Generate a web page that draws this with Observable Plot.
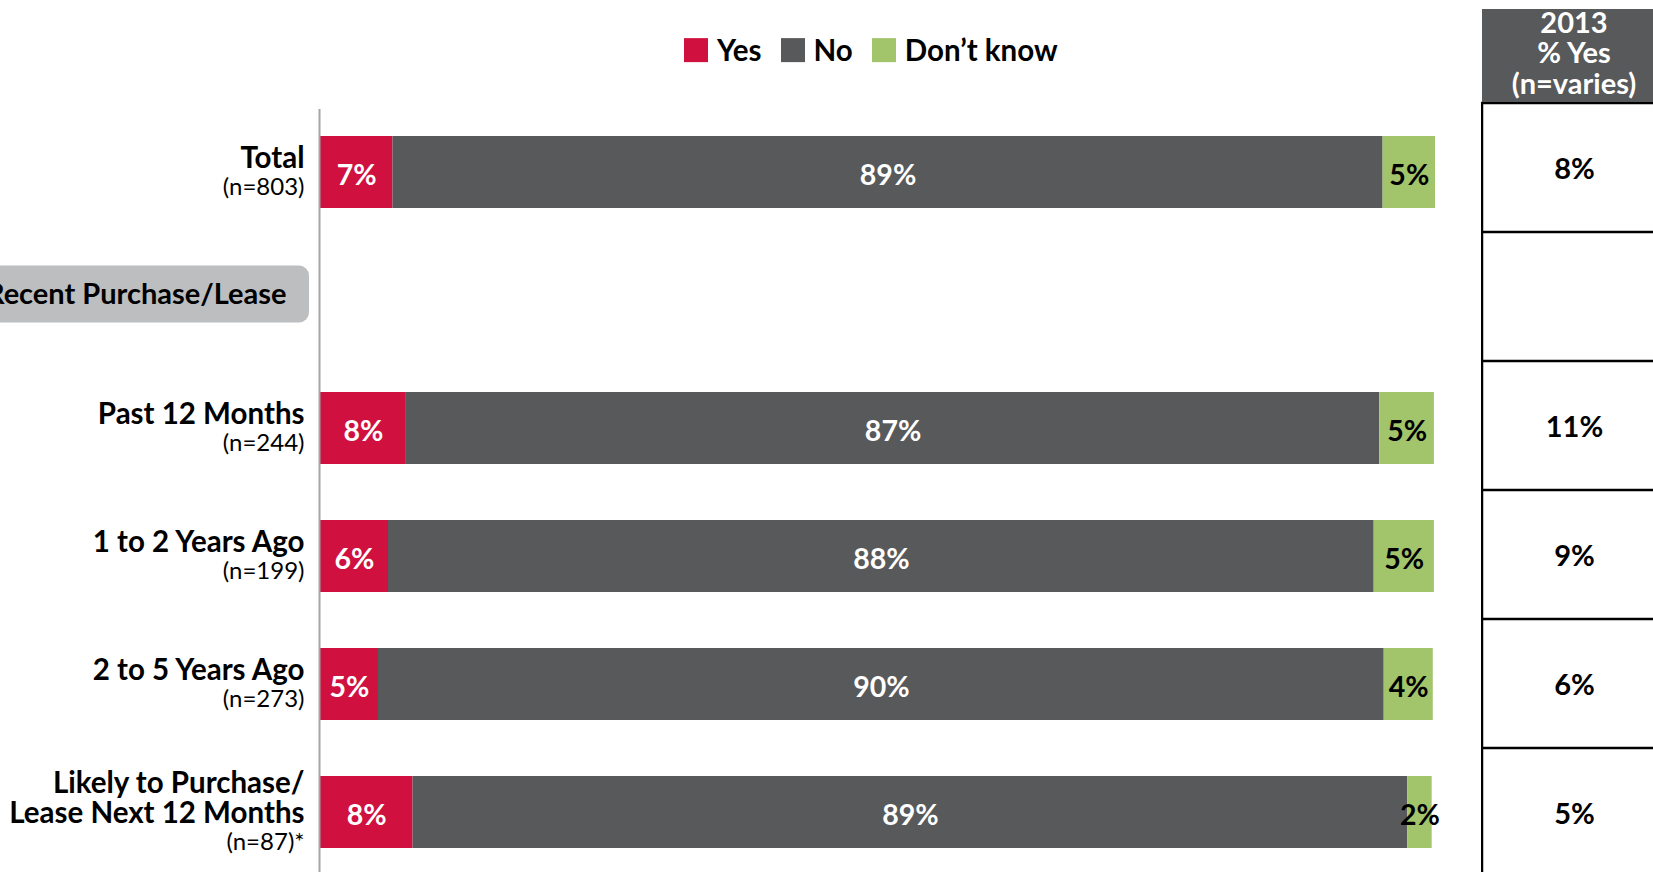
<!DOCTYPE html>
<html><head><meta charset="utf-8">
<script src="https://cdn.jsdelivr.net/npm/d3@7"></script>
<script src="https://cdn.jsdelivr.net/npm/@observablehq/plot@0.6"></script>
<style>
html, body {margin:0; padding:0; background:white; overflow:hidden;}
#root {position:relative; width:1653px; height:872px; overflow:hidden; font-family: Lato, sans-serif;}
#root svg {max-width:none !important;}
.abs {position:absolute;}
#main {left:0; top:0;}
#table {left:1481px; top:0;}
#legend {left:684px; top:57px; transform: translateY(-50%);}
.lg {font-family: Lato, sans-serif !important; font-size: 29.5px !important; font-weight: bold !important; color: #000 !important; margin: 0 !important; min-height: 0 !important; line-height: 34px !important;}
.lg-swatch {margin-right: 19px !important;}
.lg-swatch > svg {margin-right: 9px !important; width: 24px !important; height: 24px !important;}
#header {left:1482px; top:9px; width:184px; height:93px; box-sizing:border-box; padding-bottom:6px; background:#58595b; color:white; font: bold 29px/30.5px Lato, sans-serif; display:flex; align-items:center; justify-content:center; text-align:center; white-space:pre-line;}
</style></head>
<body>
<div id="root">
  <div id="main" class="abs"></div>
  <div id="table" class="abs"></div>
  <div id="header" class="abs"></div>
  <div id="legend" class="abs"></div>
</div>
<script>
// ---- data ----
const categories = ["Total", "Recent Purchase/Lease", "Past 12 Months", "1 to 2 Years Ago", "2 to 5 Years Ago", "Likely to Purchase/ Lease Next 12 Months"];
const labelLines = [["Total"], ["Recent Purchase/Lease"], ["Past 12 Months"], ["1 to 2 Years Ago"], ["2 to 5 Years Ago"], ["Likely to Purchase/", "Lease Next 12 Months"]];
const sampleSizes = ["(n=803)", null, "(n=244)", "(n=199)", "(n=273)", "(n=87)*"];
const responses = ["Yes", "No", "Don’t know"];
const colors = ["#d0103f", "#58595b", "#a2c46b"];
const yesValues = [6.5, null, 7.7, 6.1, 5.2, 8.3];
const noValues = [88.8, null, 87.3, 88.4, 90.2, 89.2];
const dontKnowValues = [4.7, null, 4.9, 5.4, 4.4, 2.2];
const yes2013 = [8, null, 11, 9, 6, 5];
const tableHeader = ["2013", "% Yes", "(n=varies)"];
const groupLabel = "Recent Purchase/Lease";

// ---- derived tables ----
const seriesValues = [yesValues, noValues, dontKnowValues];
const barData = categories.flatMap((cat, i) =>
  yesValues[i] == null ? [] : responses.map((resp, j) => ({cat, resp, value: seriesValues[j][i]})));
const labelRows = categories.map((cat, i) => ({cat, name: labelLines[i], n: sampleSizes[i]})).filter(d => d.n != null);
const groupRows = categories.filter(c => c === groupLabel).map(cat => ({cat}));
const tableRows = categories.map((cat, i) => ({cat, v: yes2013[i]}));
const fmt = v => Math.round(v) + "%";
const DK = responses[2];
const FONT = "Lato, sans-serif";
const LINE = 29.5; // label line spacing in px

function pillMark(index, scales, values, dimensions) {
  const y = scales.y;
  const bw = typeof y.bandwidth === "function" ? y.bandwidth() : (+y.bandwidth || 0);
  const g = document.createElementNS("http://www.w3.org/2000/svg", "g");
  for (const d of groupRows) {
    const cy = y(d.cat) + bw / 2 - 6;
    const r = document.createElementNS("http://www.w3.org/2000/svg", "rect");
    r.setAttribute("x", -20);
    r.setAttribute("y", cy - 28.5);
    r.setAttribute("width", dimensions.marginLeft - 11 + 20);
    r.setAttribute("height", 57);
    r.setAttribute("rx", 10);
    r.setAttribute("fill", "#bcbec0");
    g.appendChild(r);
  }
  return g;
}

const main = Plot.plot({
  width: 1480, height: 872,
  marginLeft: 320, marginRight: 45, marginTop: 113, marginBottom: 0,
  x: {domain: [0, 100], axis: null},
  y: {domain: categories, axis: null, paddingInner: 0.434, paddingOuter: 0.18},
  color: {domain: responses, range: colors},
  style: {fontFamily: FONT, background: "white"},
  marks: [
    pillMark,
    Plot.barX(barData, {y: "cat", x: "value", fill: "resp", z: "resp", order: responses}),
    Plot.ruleX([0], {stroke: "#a6a6a6", strokeWidth: 2, dx: -1, insetTop: -4}),
    Plot.text(barData, Plot.stackX({y: "cat", x: "value", z: "resp", order: responses, dy: 3,
      text: d => d.resp !== DK ? fmt(d.value) : null, fill: "white", fontSize: 28.5, fontWeight: "bold", fontFamily: FONT})),
    Plot.text(barData, Plot.stackX({y: "cat", x: "value", z: "resp", order: responses, dy: 3,
      text: d => d.resp === DK ? fmt(d.value) : null, fill: "black", fontSize: 28.5, fontWeight: "bold", fontFamily: FONT})),
    Plot.text(labelRows, {y: "cat", text: d => [...d.name, ""].join("\n"), frameAnchor: "left", textAnchor: "end", dx: -16, dy: 1,
      fontSize: 29.5, fontWeight: "bold", lineHeight: LINE / 29.5, fill: "black", fontFamily: FONT}),
    Plot.text(labelRows, {y: "cat", text: d => [...d.name.map(() => ""), d.n].join("\n"), frameAnchor: "left", textAnchor: "end", dx: -16, dy: -1.5,
      fontSize: 24, lineHeight: LINE / 24, fill: "black", fontFamily: FONT}),
    Plot.text(groupRows, {y: "cat", text: "cat", frameAnchor: "left", textAnchor: "end", dx: -34, dy: -6,
      fontSize: 29, fontWeight: "bold", fill: "black", fontFamily: FONT})
  ]
});
document.getElementById("main").appendChild(main);

const table = Plot.plot({
  width: 185, height: 872,
  marginLeft: 1, marginRight: 0, marginTop: 103, marginBottom: -5,
  y: {domain: categories, axis: null, padding: 0},
  style: {fontFamily: FONT, background: "white"},
  marks: [
    Plot.cell(tableRows, {y: "cat", fill: "white", stroke: "black", strokeWidth: 2.5, insetBottom: -6}),
    Plot.text(tableRows.filter(d => d.v != null), {y: "cat", text: d => d.v + "%", fontSize: 29, fontWeight: "bold", fill: "black", dy: 1.5, fontFamily: FONT})
  ]
});
document.getElementById("table").appendChild(table);

document.getElementById("header").textContent = tableHeader.join("\n");

const legend = Plot.legend({
  color: {type: "ordinal", domain: responses, range: colors},
  legend: "swatches", swatchSize: 24, swatchWidth: 24, swatchHeight: 24, className: "lg",
  style: {fontFamily: FONT, fontSize: "29.5px", fontWeight: "bold", color: "black"}
});
document.getElementById("legend").appendChild(legend);
</script>
</body></html>
